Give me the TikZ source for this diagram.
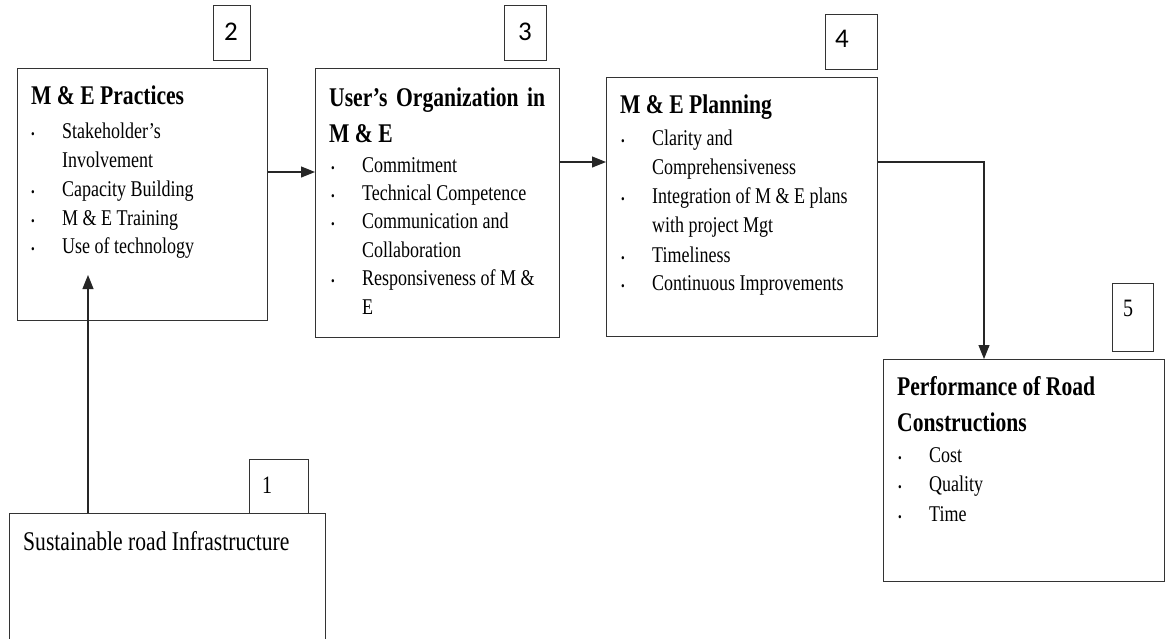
\documentclass[tikz,border=0pt]{standalone}
\usepackage{fontspec}
\setmainfont[FakeStretch=0.8]{Liberation Serif}
\newfontfamily\numfont{Carlito}
\usetikzlibrary{arrows.meta}
\newcommand\blt{\llap{{\fontsize{13}{13}\selectfont\textbullet}\hspace{27.5pt}}}
\tikzset{
  box/.style={draw=black!80, line width=1.2pt, anchor=north west, inner sep=0pt},
  numbox/.style={draw=black!80, line width=1.1pt, anchor=north west, inner sep=0pt},
  digit/.style={inner sep=0pt, font=\numfont\fontsize{27}{27}\selectfont},
  sdigit/.style={inner sep=0pt, font=\fontsize{25}{25}\selectfont},
  ttl/.style={anchor=base west, inner sep=0pt, font=\fontsize{27}{27}\selectfont\bfseries},
  itm/.style={anchor=base west, inner sep=0pt, font=\fontsize{22.5}{22.5}\selectfont},
  arr/.style={draw=black!85, line width=1.1pt, -{Triangle[length=14pt,width=11pt]}}
}
\begin{document}
\begin{tikzpicture}[x=1pt,y=-1pt]
\clip (0,0) rectangle (1168,638);
\fill[white] (0,0) rectangle (1168,638);

% main boxes
\node[box, minimum width=316pt, minimum height=140pt] (b1) at (9,513) {};
\node[box, minimum width=250pt, minimum height=252pt] (b2) at (17,68) {};
\node[box, minimum width=244pt, minimum height=269pt] (b3) at (315,68) {};
\node[box, minimum width=271pt, minimum height=259pt] (b4) at (606,77) {};
\node[box, minimum width=281pt, minimum height=222pt] (b5) at (883,359) {};

% number boxes
\node[numbox, minimum width=59pt, minimum height=54pt] (n1) at (249,459) {};
\node[numbox, minimum width=37pt, minimum height=55pt] (n2) at (213,5) {};
\node[numbox, minimum width=42pt, minimum height=55pt] (n3) at (504,5) {};
\node[numbox, minimum width=52pt, minimum height=55pt] (n4) at (825,14) {};
\node[numbox, minimum width=41pt, minimum height=68pt] (n5) at (1112,283) {};
\node[sdigit] (d1) at (267,485) {1};
\node[digit] (d2) at (231,32) {2};
\node[digit] (d3) at (525,32) {3};
\node[digit] (d4) at (842,39) {4};
\node[sdigit] (d5) at (1128,308) {5};

% box 1 text
\node[anchor=base west, inner sep=0pt, font=\fontsize{27}{27}\selectfont] (t1) at (23,550) {Sustainable road Infrastructure};

% box 2 text
\node[ttl] (t2) at (31,104) {M \& E Practices};
\node[itm] (t2a) at (62,138) {\blt Stakeholder’s};
\node[itm] (t2b) at (62,167) {Involvement};
\node[itm] (t2c) at (62,196) {\blt Capacity Building};
\node[itm] (t2d) at (62,225) {\blt M \& E Training};
\node[itm] (t2e) at (62,253) {\blt Use of technology};

% box 3 text
\node[ttl] (t3) at (329,106) {\makebox[216pt][s]{User’s Organization in}};
\node[ttl] (t3b) at (329,142) {M \& E};
\node[itm] (t3c) at (362,172) {\blt Commitment};
\node[itm] (t3d) at (362,200) {\blt Technical Competence};
\node[itm] (t3e) at (362,228) {\blt Communication and};
\node[itm] (t3f) at (362,257) {Collaboration};
\node[itm] (t3g) at (362,285) {\blt Responsiveness of M \&};
\node[itm] (t3h) at (362,314) {E};

% box 4 text
\node[ttl] (t4) at (620,113) {M \& E Planning};
\node[itm] (t4a) at (652,145) {\blt Clarity and};
\node[itm] (t4b) at (652,174) {Comprehensiveness};
\node[itm] (t4c) at (652,203) {\blt Integration of M \& E plans};
\node[itm] (t4d) at (652,232) {with project Mgt};
\node[itm] (t4e) at (652,262) {\blt Timeliness};
\node[itm] (t4f) at (652,290) {\blt Continuous Improvements};

% box 5 text
\node[ttl] (t5) at (897,395) {Performance of Road};
\node[ttl] (t5b) at (897,431) {Constructions};
\node[itm] (t5c) at (929,462) {\blt Cost};
\node[itm] (t5d) at (929,491) {\blt Quality};
\node[itm] (t5e) at (929,521) {\blt Time};

% connectors
\coordinate (a1end) at (88,275);
\draw[arr] (b1.north -| a1end) -- (a1end);
\coordinate (y23) at (0,172);
\draw[arr] (b2.east |- y23) -- (b3.west |- y23);
\coordinate (y34) at (0,162);
\draw[arr] (b3.east |- y34) -- (b4.west |- y34);
\coordinate (x45) at (984,0);
\draw[arr] (b4.east |- y34) -| (b5.north -| x45);
\end{tikzpicture}
\end{document}
